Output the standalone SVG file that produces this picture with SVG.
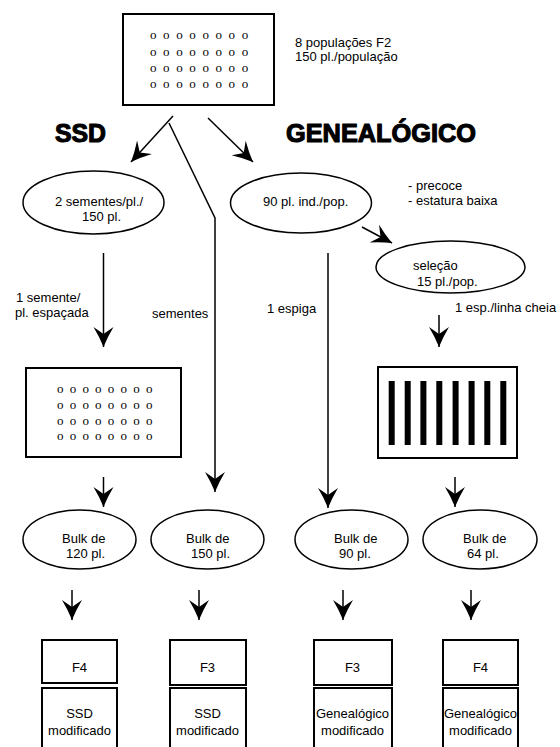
<svg xmlns="http://www.w3.org/2000/svg" width="560" height="747" viewBox="0 0 560 747">
<style>
.t{font-family:"Liberation Sans",Arial,sans-serif;font-size:13px;fill:#000}
.m{text-anchor:middle}
.h{font-family:"Liberation Sans",Arial,sans-serif;font-size:25px;font-weight:bold;fill:#000;stroke:#000;stroke-width:1.1;stroke-linejoin:round}
.o{font-family:"Liberation Serif","Times New Roman",serif;font-size:13px;fill:#000}
.box{fill:#fff;stroke:#000;stroke-width:2}
.el{fill:#fff;stroke:#000;stroke-width:1.5}
.ln{fill:none;stroke:#000;stroke-width:1.5}
</style>
<defs>
<marker id="ah" viewBox="-21 -11 22 22" refX="0" refY="0" markerWidth="22" markerHeight="22" markerUnits="userSpaceOnUse" orient="auto">
<path d="M0,0 Q-10,-4 -20,-10 L-13,0 L-20,10 Q-10,4 0,0 Z" fill="#000"/>
</marker>
</defs>
<rect width="560" height="747" fill="#fff"/>
<g opacity="0.999">
<g id="f2-field">
<rect class="box" x="123" y="14" width="151" height="91"/>
<text class="o" x="150 163.1 176.2 189.3 202.4 215.5 228.6 241.7" y="39">oooooooo</text>
<text class="o" x="150 163.1 176.2 189.3 202.4 215.5 228.6 241.7" y="55.5">oooooooo</text>
<text class="o" x="150 163.1 176.2 189.3 202.4 215.5 228.6 241.7" y="72">oooooooo</text>
<text class="o" x="150 163.1 176.2 189.3 202.4 215.5 228.6 241.7" y="88">oooooooo</text>
</g>
<g id="f2-label">
<text class="t" x="295" y="47">8 populações F2</text>
<text class="t" x="295" y="61">150 pl./população</text>
</g>
<g id="title-ssd"><text class="h" x="55" y="142" textLength="51" lengthAdjust="spacingAndGlyphs">SSD</text></g>
<g id="title-gen"><text class="h" x="286" y="142" textLength="190" lengthAdjust="spacingAndGlyphs">GENEALÓGICO</text></g>

<g id="connectors">
<line class="ln" x1="173" y1="116" x2="131" y2="162" marker-end="url(#ah)"/>
<polyline class="ln" points="169,123 215,218 215,492" marker-end="url(#ah)"/>
<line class="ln" x1="208" y1="118" x2="253" y2="162" marker-end="url(#ah)"/>
<line class="ln" x1="103.5" y1="253" x2="103.5" y2="347" marker-end="url(#ah)"/>
<line class="ln" x1="103.5" y1="477" x2="103.5" y2="507" marker-end="url(#ah)"/>
<line class="ln" x1="328" y1="253" x2="328" y2="508" marker-end="url(#ah)"/>
<line class="ln" x1="362" y1="227" x2="392" y2="243" marker-end="url(#ah)"/>
<line class="ln" x1="439" y1="315" x2="439" y2="347" marker-end="url(#ah)"/>
<line class="ln" x1="455" y1="477" x2="455" y2="507" marker-end="url(#ah)"/>
<line class="ln" x1="72" y1="590" x2="72" y2="620" marker-end="url(#ah)"/>
<line class="ln" x1="199" y1="590" x2="199" y2="620" marker-end="url(#ah)"/>
<line class="ln" x1="343" y1="590" x2="343" y2="620" marker-end="url(#ah)"/>
<line class="ln" x1="471" y1="590" x2="471" y2="620" marker-end="url(#ah)"/>
<text class="t" x="16" y="302">1 semente/</text>
<text class="t" x="15" y="317">pl. espaçada</text>
<text class="t" x="152" y="318">sementes</text>
<text class="t" x="267" y="313">1 espiga</text>
<text class="t" x="455" y="312">1 esp./linha cheia</text>
</g>

<g id="ssd-seeds">
<ellipse class="el" cx="93.5" cy="202.5" rx="70.5" ry="31.5"/>
<text class="t" x="55" y="206">2 sementes/pl./</text>
<text class="t" x="82" y="221">150 pl.</text>
</g>
<g id="gen-plants">
<ellipse class="el" cx="301" cy="203" rx="70.5" ry="30"/>
<text class="t" x="263" y="206">90 pl. ind./pop.</text>
</g>
<g id="gen-criteria">
<text class="t" x="408" y="190">- precoce</text>
<text class="t" x="408" y="205">- estatura baixa</text>
</g>
<g id="gen-selection">
<ellipse class="el" cx="450.5" cy="267" rx="74.5" ry="26"/>
<text class="t" x="413" y="270">seleção</text>
<text class="t" x="417" y="286">15 pl./pop.</text>
</g>
<g id="ssd-field">
<rect class="box" x="26" y="368" width="155" height="89"/>
<text class="o" x="57 69.7 82.4 95.1 107.8 120.5 133.2 145.9" y="393">oooooooo</text>
<text class="o" x="57 69.7 82.4 95.1 107.8 120.5 133.2 145.9" y="409">oooooooo</text>
<text class="o" x="57 69.7 82.4 95.1 107.8 120.5 133.2 145.9" y="424.6">oooooooo</text>
<text class="o" x="57 69.7 82.4 95.1 107.8 120.5 133.2 145.9" y="440.3">oooooooo</text>
</g>
<g id="gen-field">
<rect class="box" x="378" y="367" width="139" height="91"/>
<g fill="#000">
<rect x="388.7" y="381" width="6" height="64"/>
<rect x="404.7" y="381" width="6" height="64"/>
<rect x="420.4" y="381" width="6" height="64"/>
<rect x="436.3" y="381" width="6" height="64"/>
<rect x="452.6" y="381" width="6" height="64"/>
<rect x="468.6" y="381" width="6" height="64"/>
<rect x="484.3" y="381" width="6" height="64"/>
<rect x="500.3" y="381" width="6" height="64"/>
</g>
</g>

<g id="bulk-120">
<ellipse class="el" cx="79.5" cy="539.5" rx="56.5" ry="29.5"/>
<text class="t" x="62" y="543">Bulk de</text>
<text class="t" x="66" y="558">120 pl.</text>
</g>
<g id="bulk-150">
<ellipse class="el" cx="207.5" cy="539.5" rx="56.5" ry="29.5"/>
<text class="t" x="186" y="543">Bulk de</text>
<text class="t" x="191" y="558">150 pl.</text>
</g>
<g id="bulk-90">
<ellipse class="el" cx="351.5" cy="539.5" rx="56.5" ry="29.5"/>
<text class="t" x="334" y="543">Bulk de</text>
<text class="t" x="339" y="558">90 pl.</text>
</g>
<g id="bulk-64">
<ellipse class="el" cx="480" cy="539.5" rx="57" ry="29.5"/>
<text class="t" x="463" y="543">Bulk de</text>
<text class="t" x="467" y="558">64 pl.</text>
</g>

<g id="result-1">
<rect class="box" x="42" y="640" width="75" height="43"/>
<text class="t m" x="79.5" y="672">F4</text>
<rect class="box" x="42" y="688" width="75" height="70"/>
<text class="t m" x="79.5" y="718">SSD</text>
<text class="t m" x="79.5" y="735">modificado</text>
</g>
<g id="result-2">
<rect class="box" x="170" y="640" width="76" height="45"/>
<text class="t m" x="207.5" y="672">F3</text>
<rect class="box" x="170" y="688" width="76" height="70"/>
<text class="t m" x="207.5" y="718">SSD</text>
<text class="t m" x="207.5" y="735">modificado</text>
</g>
<g id="result-3">
<rect class="box" x="314" y="640" width="78" height="45"/>
<text class="t m" x="352.5" y="672">F3</text>
<rect class="box" x="314" y="688" width="78" height="70"/>
<text class="t m" x="352.5" y="718">Genealógico</text>
<text class="t m" x="352.5" y="735">modificado</text>
</g>
<g id="result-4">
<rect class="box" x="443" y="640" width="75" height="45"/>
<text class="t m" x="480.5" y="672">F4</text>
<rect class="box" x="443" y="688" width="75" height="70"/>
<text class="t m" x="480.5" y="718">Genealógico</text>
<text class="t m" x="480.5" y="735">modificado</text>
</g>
</g>
</svg>
